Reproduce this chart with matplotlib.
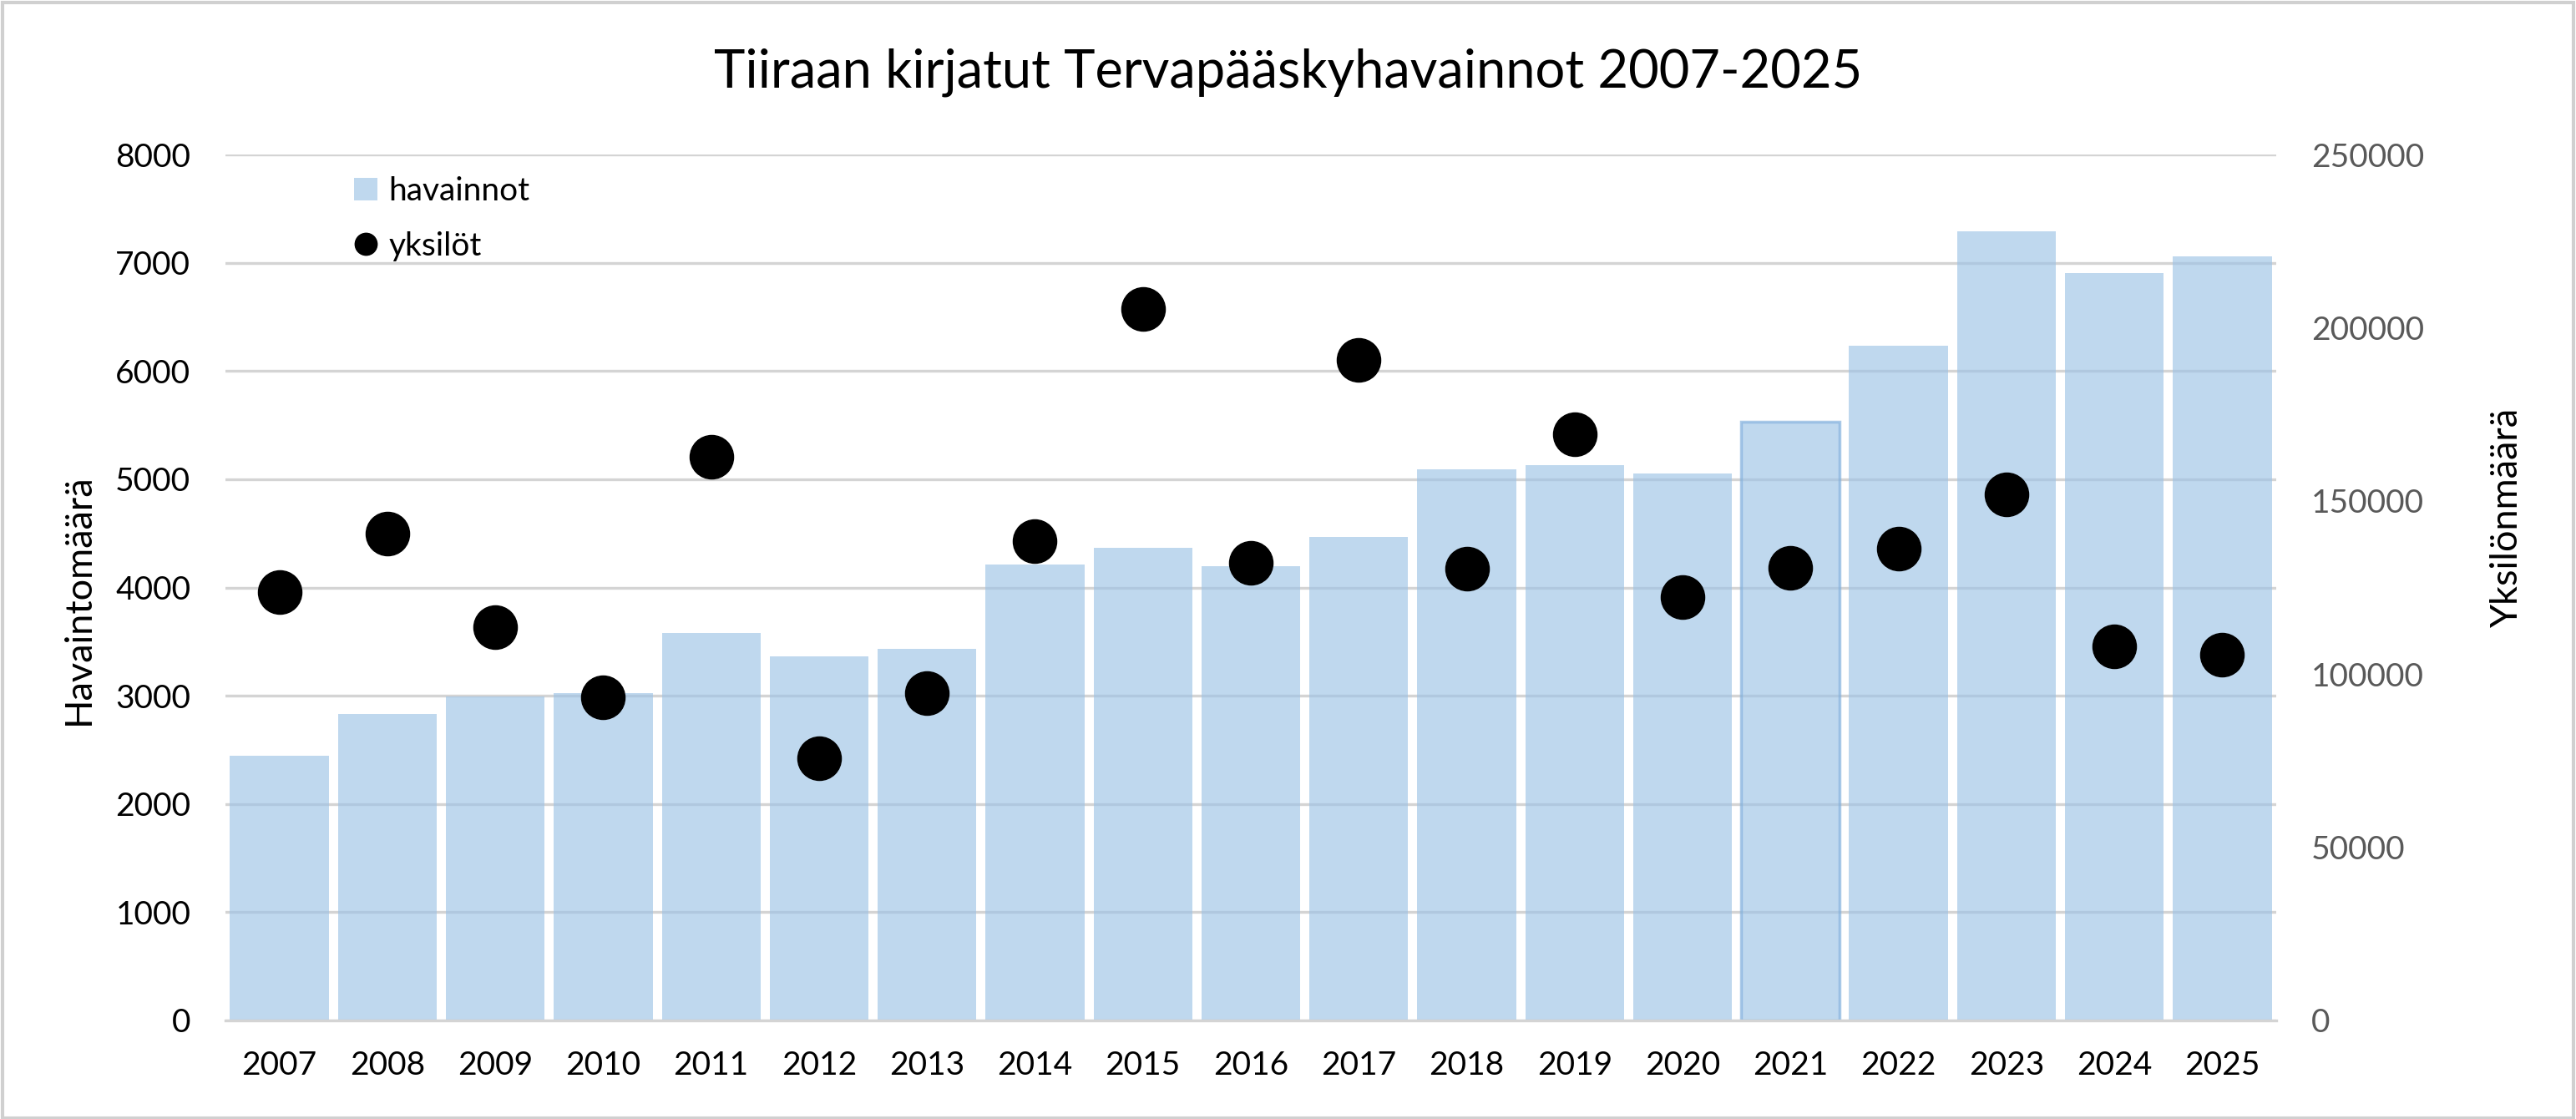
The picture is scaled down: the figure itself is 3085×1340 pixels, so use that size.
import matplotlib
matplotlib.use("Agg")
import matplotlib.pyplot as plt
from matplotlib.patches import Patch, Rectangle
from matplotlib.lines import Line2D
import numpy as np

years = [2007, 2008, 2009, 2010, 2011, 2012, 2013, 2014, 2015, 2016,
         2017, 2018, 2019, 2020, 2021, 2022, 2023, 2024, 2025]
havainnot = [2445, 2835, 2995, 3025, 3580, 3365, 3430, 4210, 4370, 4200,
             4470, 5090, 5130, 5050, 5535, 6235, 7290, 6905, 7060]
yksilot = [123700, 140500, 113500, 93200, 162800, 75800, 94500, 138500, 205400, 132100,
           190600, 130500, 169200, 122300, 130700, 136300, 151900, 108000, 105500]

title = "Tiiraan kirjatut Tervapääskyhavainnot 2007-2025"
left_label = "Havaintomäärä"
right_label = "Yksilönmäärä"

plt.rcParams["font.family"] = ["Lato", "DejaVu Sans"]

W, H = 3085, 1340
fig = plt.figure(figsize=(W / 100, H / 100), dpi=100)
ax = fig.add_axes([270 / W, 1 - 1222 / H, (2726 - 270) / W, (1222 - 185) / H])
ax2 = ax.twinx()

x = np.arange(len(years))
bars = ax.bar(x, havainnot, width=0.915, color="#9DC3E6", alpha=0.65,
              linewidth=0, zorder=2)
# the 2021 bar has a visible outline in the original
bars[years.index(2021)].set_edgecolor("#7FAEDC")
bars[years.index(2021)].set_linewidth(2.5)

ax.set_xlim(-0.5, len(years) - 0.5)
ax.set_ylim(0, 8000)
ax.set_yticks(np.arange(0, 8001, 1000))
ax.set_xticks(x)
ax.set_xticklabels([str(y) for y in years])
ax.grid(axis="y", color="#d4d4d4", lw=2.4, zorder=0)
ax.set_axisbelow(True)
for s in ["top", "right", "left"]:
    ax.spines[s].set_visible(False)
ax.spines["bottom"].set_color("#d4d4d4")
ax.spines["bottom"].set_linewidth(2.4)
ax.tick_params(axis="both", length=0, labelsize=28, colors="black")
ax.tick_params(axis="y", pad=30)
ax.tick_params(axis="x", pad=26)

ax2.plot(x, yksilot, linestyle="none", marker="o", ms=37.5, color="black", zorder=3)
ax2.set_ylim(0, 250000)
ax2.set_yticks(np.arange(0, 250001, 50000))
for s in ax2.spines.values():
    s.set_visible(False)
ax2.tick_params(axis="y", length=0, labelsize=28, labelcolor="#595959", pad=30)

fig.text(0.5, 1 - 87 / H, title, ha="center", va="center", fontsize=45.5)
fig.text(94 / W, 1 - 718 / H, left_label, rotation=90, ha="center", va="center", fontsize=32.5)
fig.text(3002 / W, 1 - 619 / H, right_label, rotation=90, ha="center", va="center", fontsize=32.5)

handles = [Patch(facecolor="#9DC3E6", alpha=0.65, edgecolor="none"),
           Line2D([], [], linestyle="none", marker="o", ms=19, color="black")]
ax.legend(handles, ["havainnot", "yksilöt"], loc="upper left",
          bbox_to_anchor=(405 / W, 1 - 192 / H), bbox_transform=fig.transFigure,
          frameon=False, fontsize=28, handlelength=0.7, handleheight=0.7,
          handletextpad=0.35, labelspacing=0.75, borderpad=0)

fig.patches.append(Rectangle((0.001, 0.001), 0.998, 0.997, transform=fig.transFigure,
                             fill=False, edgecolor="#d0d0d0", lw=3))

fig.savefig("out.png", dpi=100)
